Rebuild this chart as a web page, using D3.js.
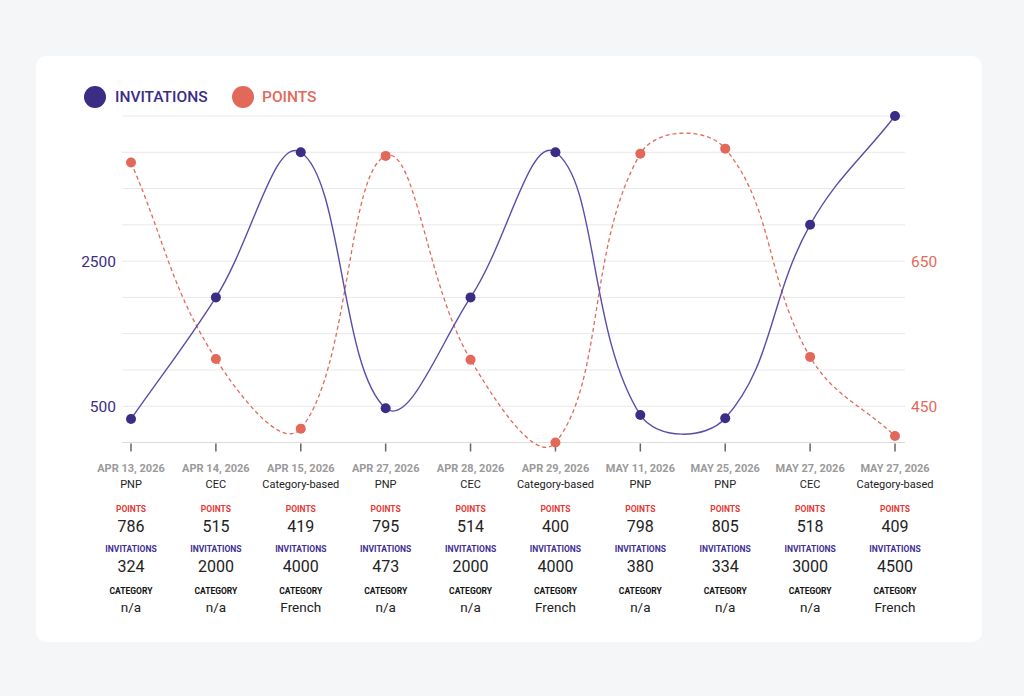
<!DOCTYPE html>
<html>
<head>
<meta charset="utf-8">
<script src="https://cdn.jsdelivr.net/npm/d3@7"></script>
<style>
  html, body { margin: 0; padding: 0; background: #f5f6f8; }
  body { width: 1024px; height: 696px; overflow: hidden; font-family: Roboto, "Noto Sans", sans-serif; }
</style>
</head>
<body>
<div id="chart"></div>
<script>
const width = 1024
const height = 696

// data
const dates = ["APR 13, 2026", "APR 14, 2026", "APR 15, 2026", "APR 27, 2026", "APR 28, 2026", "APR 29, 2026", "MAY 11, 2026", "MAY 25, 2026", "MAY 27, 2026", "MAY 27, 2026"]
const programs = ["PNP", "CEC", "Category-based", "PNP", "CEC", "Category-based", "PNP", "PNP", "CEC", "Category-based"]
const points = [786, 515, 419, 795, 514, 400, 798, 805, 518, 409]
const invitations = [324, 2000, 4000, 473, 2000, 4000, 380, 334, 3000, 4500]
const categories = ["n/a", "n/a", "French", "n/a", "n/a", "French", "n/a", "n/a", "n/a", "French"]
const invTicks = [500, 2500]
const ptsTicks = [450, 650]
const gridTicks = d3.range(0, 4501, 500)

const purple = "#3b2c86"
const purpleLine = "#5a4daa"
const orange = "#e2695a"

const plot = { left: 122, right: 905, top: 116, bottom: 442.5 }

const svg = d3.select("div#chart").append("svg").attr("width", width).attr("height", height)

svg.append("rect").attr("x", 36).attr("y", 56).attr("width", 946).attr("height", 586)
    .attr("rx", 10).attr("fill", "#ffffff")

const x = d3.scalePoint().domain(d3.range(dates.length)).range([131, 895])
const yInv = d3.scaleLinear().domain([0, 4500]).range([plot.bottom, plot.top])
const yPts = d3.scaleLinear().domain([400, 850]).range([plot.bottom, plot.top])

// grid
svg.append("g").selectAll("line").data(gridTicks).join("line")
    .attr("x1", plot.left).attr("x2", plot.right)
    .attr("y1", d => yInv(d)).attr("y2", d => yInv(d))
    .attr("stroke", d => d === 0 ? "#dcdcdc" : "#e8e8e8").attr("stroke-width", 1)

// y axes
const leftAxis = svg.append("g").attr("transform", `translate(${plot.left}, 0)`)
    .call(d3.axisLeft(yInv).tickValues(invTicks).tickFormat(d3.format("d")).tickSize(0).tickPadding(6))
leftAxis.select(".domain").remove()
leftAxis.selectAll("text").attr("fill", purple).attr("font-size", 15.5).attr("font-family", "Roboto")

const rightAxis = svg.append("g").attr("transform", `translate(${plot.right}, 0)`)
    .call(d3.axisRight(yPts).tickValues(ptsTicks).tickFormat(d3.format("d")).tickSize(0).tickPadding(6))
rightAxis.select(".domain").remove()
rightAxis.selectAll("text").attr("fill", orange).attr("font-size", 15.5).attr("font-family", "Roboto")

// x ticks
svg.append("g").selectAll("line").data(d3.range(dates.length)).join("line")
    .attr("x1", d => x(d)).attr("x2", d => x(d))
    .attr("y1", plot.bottom + 1).attr("y2", plot.bottom + 9)
    .attr("stroke", "#666").attr("stroke-width", 1.5)

// spline like the one the original tool draws (tension 0.4)
function splinePath(pts) {
    const p = d3.path()
    const t = 0.4
    const ctrl = pts.map((c, i) => {
        const prev = pts[i - 1] || c
        const next = pts[i + 1] || c
        const d01 = Math.hypot(c[0] - prev[0], c[1] - prev[1])
        const d12 = Math.hypot(next[0] - c[0], next[1] - c[1])
        const s = d01 + d12 || 1
        const fa = t * d01 / s
        const fb = t * d12 / s
        return {
            prev: [c[0] - fa * (next[0] - prev[0]), c[1] - fa * (next[1] - prev[1])],
            next: [c[0] + fb * (next[0] - prev[0]), c[1] + fb * (next[1] - prev[1])]
        }
    })
    p.moveTo(pts[0][0], pts[0][1])
    for (let i = 1; i < pts.length; i++) {
        const a = ctrl[i - 1].next
        const b = ctrl[i].prev
        p.bezierCurveTo(a[0], a[1], b[0], b[1], pts[i][0], pts[i][1])
    }
    return p.toString()
}

const invPts = invitations.map((v, i) => [x(i), yInv(v)])
const ptsPts = points.map((v, i) => [x(i), yPts(v)])

svg.append("path").attr("d", splinePath(ptsPts))
    .attr("fill", "none").attr("stroke", orange).attr("stroke-width", 1.3)
    .attr("stroke-dasharray", "4,3")
svg.append("path").attr("d", splinePath(invPts))
    .attr("fill", "none").attr("stroke", purpleLine).attr("stroke-width", 1.4)

svg.append("g").selectAll("circle").data(points).join("circle")
    .attr("cx", (d, i) => x(i)).attr("cy", d => yPts(d)).attr("r", 5).attr("fill", orange)
svg.append("g").selectAll("circle").data(invitations).join("circle")
    .attr("cx", (d, i) => x(i)).attr("cy", d => yInv(d)).attr("r", 5).attr("fill", purple)

// legend
const legend = svg.append("g")
legend.append("circle").attr("cx", 95).attr("cy", 97).attr("r", 11).attr("fill", purple)
legend.append("text").attr("x", 115).attr("y", 102).text("INVITATIONS")
    .attr("fill", purple).attr("font-size", 15.5).attr("font-weight", 500)
legend.append("circle").attr("cx", 243).attr("cy", 97).attr("r", 11).attr("fill", orange)
legend.append("text").attr("x", 262).attr("y", 102).text("POINTS")
    .attr("fill", orange).attr("font-size", 15.5).attr("font-weight", 500)

// per-draw details under the axis
const cols = svg.append("g").selectAll("g").data(d3.range(dates.length)).join("g")
    .attr("transform", d => `translate(${x(d)}, 0)`)
    .attr("text-anchor", "middle")

const rows = [
    { y: 472, size: 11, weight: 700, fill: "#9a9a9a", text: i => dates[i] },
    { y: 488, size: 11, weight: 400, fill: "#222", text: i => programs[i] },
    { y: 512, size: 8.5, weight: 700, fill: "#e53935", text: () => "POINTS" },
    { y: 532, size: 16, weight: 400, fill: "#222", text: i => points[i] },
    { y: 552, size: 8.5, weight: 700, fill: "#3f2f95", text: () => "INVITATIONS" },
    { y: 572, size: 16, weight: 400, fill: "#222", text: i => invitations[i] },
    { y: 594, size: 8.5, weight: 700, fill: "#111", text: () => "CATEGORY" },
    { y: 612, size: 13.5, weight: 400, fill: "#222", text: i => categories[i] },
]
rows.forEach(r => {
    cols.append("text").attr("y", r.y).text(d => r.text(d))
        .attr("font-size", r.size).attr("font-weight", r.weight).attr("fill", r.fill)
})
</script>
</body>
</html>
